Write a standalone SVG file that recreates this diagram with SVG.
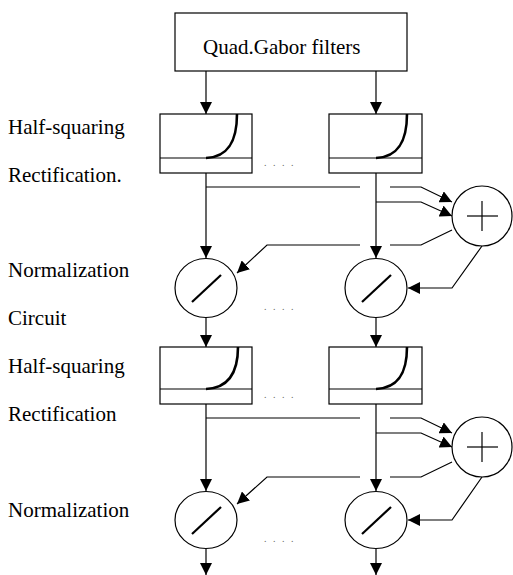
<svg xmlns="http://www.w3.org/2000/svg" width="513" height="575" viewBox="0 0 513 575">
<defs>
<marker id="ah" markerUnits="userSpaceOnUse" markerWidth="12" markerHeight="12" refX="12" refY="6" orient="auto" viewBox="0 0 12 12">
<path d="M0,0 L12,6 L0,12 z" fill="#000"/>
</marker>
</defs>
<style>
.box{fill:#fff;stroke:#000;stroke-width:1.2}
.ln{fill:none;stroke:#000;stroke-width:1.2}
.arr{fill:none;stroke:#000;stroke-width:1.2;marker-end:url(#ah)}
.curve{fill:none;stroke:#000;stroke-width:2.6}
.thick{fill:none;stroke:#000;stroke-width:2.2}
.lbl{font-size:21px;fill:#000}
.dots{font-size:10px;fill:#666;letter-spacing:6.5px}
</style>
<rect width="513" height="575" fill="#fff"/>

<g id="labels" font-family="Liberation Serif, Times New Roman, DejaVu Serif, serif">
<text class="lbl" x="8" y="134">Half-squaring</text>
<text class="lbl" x="8" y="182">Rectification.</text>
<text class="lbl" x="8" y="277">Normalization</text>
<text class="lbl" x="8" y="325">Circuit</text>
<text class="lbl" x="8" y="373">Half-squaring</text>
<text class="lbl" x="8" y="421">Rectification</text>
<text class="lbl" x="8" y="517">Normalization</text>
</g>

<g id="gabor">
<rect class="box" x="175" y="13" width="232" height="58"/>
<text class="lbl" x="203" y="54" font-family="Liberation Serif, Times New Roman, DejaVu Serif, serif">Quad.Gabor filters</text>
</g>

<g id="rect1L">
<rect class="box" x="160" y="114" width="92" height="59"/>
<line class="ln" x1="160" y1="158" x2="252" y2="158"/>
<path class="curve" d="M206,158 C229,157 237,140 237,114"/>
</g>
<g id="rect1R">
<rect class="box" x="329" y="114" width="93" height="59"/>
<line class="ln" x1="329" y1="158" x2="422" y2="158"/>
<path class="curve" d="M376,158 C399,157 407,140 407,114"/>
</g>
<text class="dots" x="264" y="166" font-family="Liberation Serif, serif">....</text>

<g id="sum1">
<circle class="box" cx="482" cy="216" r="30"/>
<line class="ln" x1="467" y1="216" x2="498" y2="216"/>
<line class="ln" x1="482" y1="201" x2="482" y2="231"/>
</g>

<g id="norm1L">
<ellipse class="box" cx="206" cy="288" rx="31" ry="29.5"/>
<line class="thick" x1="192" y1="302" x2="221" y2="275"/>
</g>
<g id="norm1R">
<ellipse class="box" cx="376" cy="288" rx="31" ry="29.5"/>
<line class="thick" x1="362" y1="302" x2="391" y2="275"/>
</g>
<text class="dots" x="264" y="310" font-family="Liberation Serif, serif">....</text>

<g id="rect2L">
<rect class="box" x="160" y="347" width="92" height="57"/>
<line class="ln" x1="160" y1="389" x2="252" y2="389"/>
<path class="curve" d="M206,389 C229,388 238,372 238,347"/>
</g>
<g id="rect2R">
<rect class="box" x="329" y="347" width="93" height="57"/>
<line class="ln" x1="329" y1="389" x2="422" y2="389"/>
<path class="curve" d="M376,389 C399,388 407,372 407,347"/>
</g>
<text class="dots" x="264" y="398" font-family="Liberation Serif, serif">....</text>

<g id="sum2">
<circle class="box" cx="482" cy="447" r="30"/>
<line class="ln" x1="467" y1="447" x2="498" y2="447"/>
<line class="ln" x1="482" y1="432" x2="482" y2="462"/>
</g>

<g id="norm2L">
<ellipse class="box" cx="206" cy="520" rx="31" ry="28.5"/>
<line class="thick" x1="192" y1="534" x2="221" y2="507"/>
</g>
<g id="norm2R">
<ellipse class="box" cx="376" cy="520" rx="31" ry="28.5"/>
<line class="thick" x1="362" y1="534" x2="391" y2="507"/>
</g>
<text class="dots" x="264" y="542" font-family="Liberation Serif, serif">....</text>

<g id="connectors">
<line class="arr" x1="206" y1="71" x2="206" y2="114"/>
<line class="arr" x1="376" y1="71" x2="376" y2="114"/>
<line class="arr" x1="206" y1="173" x2="206" y2="258"/>
<line class="arr" x1="376" y1="173" x2="376" y2="258"/>
<polyline class="ln" points="206,187 360,187"/>
<polyline class="arr" points="390,187 421,187 452,202"/>
<polyline class="arr" points="376,202 421,202 452,216"/>
<polyline class="ln" points="452,230 421,245 390,245"/>
<polyline class="arr" points="360,245 267,245 237,273"/>
<polyline class="arr" points="482,246 452,288 408,288"/>
<line class="arr" x1="206" y1="317" x2="206" y2="347"/>
<line class="arr" x1="376" y1="317" x2="376" y2="347"/>
<line class="arr" x1="206" y1="404" x2="206" y2="491"/>
<line class="arr" x1="376" y1="404" x2="376" y2="491"/>
<polyline class="ln" points="206,418 360,418"/>
<polyline class="arr" points="390,418 421,418 452,433"/>
<polyline class="arr" points="376,433 421,433 452,447"/>
<polyline class="ln" points="452,462 421,477 390,477"/>
<polyline class="arr" points="360,477 267,477 237,504"/>
<polyline class="arr" points="482,477 452,520 408,520"/>
<line class="arr" x1="206" y1="549" x2="206" y2="575"/>
<line class="arr" x1="376" y1="549" x2="376" y2="575"/>
</g>
</svg>
